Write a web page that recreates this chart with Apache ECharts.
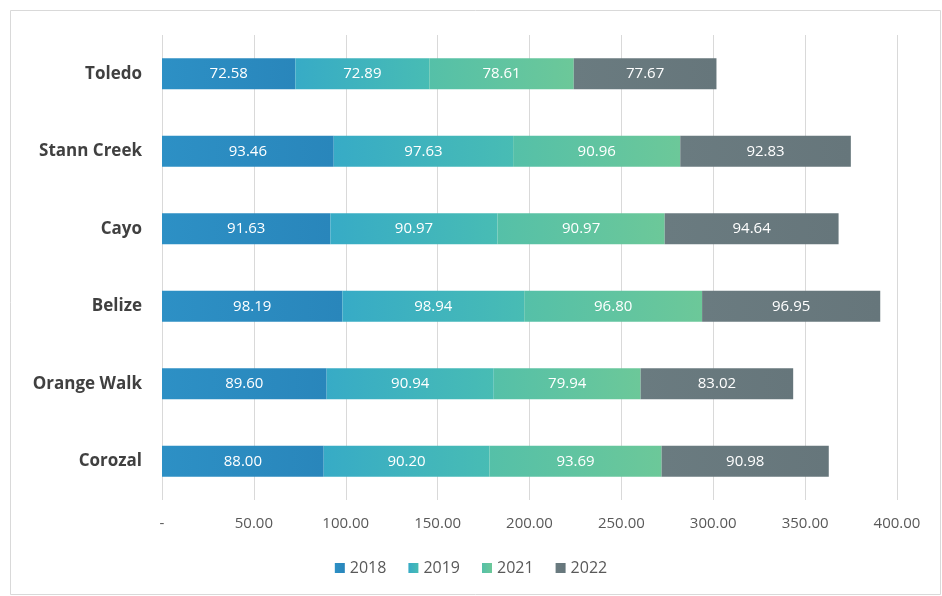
<!DOCTYPE html>
<html>
<head>
<meta charset="utf-8">
<script src="https://cdn.jsdelivr.net/npm/echarts@6/dist/echarts.min.js"></script>
<style>
  html, body { margin: 0; padding: 0; background: #ffffff; }
  #chart { width: 942px; height: 596px; }
</style>
</head>
<body>
<div id="chart"></div>
<script>
// 地区（自下而上）
var districts = ["Corozal", "Orange Walk", "Belize", "Cayo", "Stann Creek", "Toledo"];
var years = ["2018", "2019", "2021", "2022"];
var v2018 = [88.00, 89.60, 98.19, 91.63, 93.46, 72.58];
var v2019 = [90.20, 90.94, 98.94, 90.97, 97.63, 72.89];
var v2021 = [93.69, 79.94, 96.80, 90.97, 90.96, 78.61];
var v2022 = [90.98, 83.02, 96.95, 94.64, 92.83, 77.67];
var xTicks = [0, 50, 100, 150, 200, 250, 300, 350, 400];

var seriesData = [v2018, v2019, v2021, v2022];
var colors = [
  ["#2d90c5", "#2986bb"],
  ["#37abc6", "#48bcb4"],
  ["#55c0a8", "#6cc899"],
  ["#6a7b80", "#66767b"]
];

var chart = echarts.init(document.getElementById("chart"));
var series = years.map(function (y, i) {
  return {
    name: y,
    type: "bar",
    stack: "total",
    barWidth: "40%",
    data: seriesData[i],
    itemStyle: {
      color: new echarts.graphic.LinearGradient(0, 0, 1, 0, [
        { offset: 0, color: colors[i][0] },
        { offset: 1, color: colors[i][1] }
      ])
    },
    label: {
      show: true,
      position: "inside",
      color: "#ffffff",
      fontFamily: "Open Sans",
      fontSize: 15,
      formatter: function (p) { return p.value.toFixed(2); }
    }
  };
});

chart.setOption({
  animation: false,
  backgroundColor: "#ffffff",
  color: colors.map(function (c) { return c[0]; }),
  graphic: [{
    type: "rect",
    shape: { x: 10.5, y: 10.5, width: 930, height: 584 },
    style: { fill: "none", stroke: "#d9d9d9", lineWidth: 1 },
    z: -1
  }],
  grid: { left: 162, right: 45, top: 35, bottom: 96 },
  legend: {
    bottom: 15,
    left: "center",
    icon: "rect",
    itemWidth: 10,
    itemHeight: 10,
    itemGap: 22,
    textStyle: { color: "#595959", fontFamily: "Open Sans", fontSize: 16 },
    data: years
  },
  xAxis: {
    type: "value",
    min: xTicks[0],
    max: xTicks[xTicks.length - 1],
    interval: 50,
    axisLine: { show: false },
    axisTick: { show: false },
    splitLine: { show: true, lineStyle: { color: "#d9d9d9", width: 1 } },
    axisLabel: {
      color: "#595959",
      fontFamily: "Open Sans",
      fontSize: 15,
      margin: 16,
      formatter: function (v) { return v === 0 ? "-" : v.toFixed(2); }
    }
  },
  yAxis: {
    type: "category",
    data: districts,
    axisLine: { show: false },
    axisTick: { show: false },
    axisLabel: {
      color: "#404040",
      fontFamily: "Open Sans",
      fontWeight: "bold",
      fontSize: 17,
      margin: 20
    }
  },
  series: series
});
</script>
</body>
</html>
